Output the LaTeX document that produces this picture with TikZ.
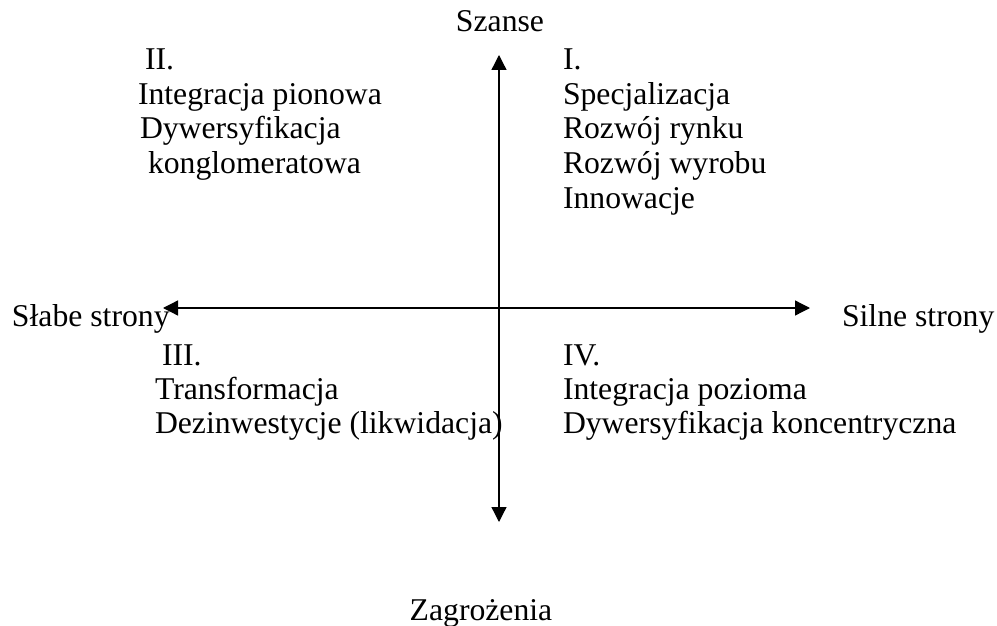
\documentclass[tikz,border=0pt]{standalone}
\usepackage{fontspec}
\setmainfont{Liberation Serif}
\usetikzlibrary{arrows.meta}
\tikzset{
  lbl/.style={anchor=base west, inner sep=0pt, outer sep=0pt, font=\fontsize{31.7}{34}\selectfont},
  axislbl/.style={anchor=base, inner sep=0pt, outer sep=0pt, font=\fontsize{31.7}{34}\selectfont},
  axis/.style={line width=1.3pt, -{Triangle[length=15pt,width=15pt]}},
}
\begin{document}
\begin{tikzpicture}[x=1pt,y=-1pt]
\useasboundingbox (0,0) rectangle (997,626);
% axis end points
\coordinate (c) at (499,308);
\coordinate (top) at (499,55);
\coordinate (bot) at (499,522);
\coordinate (left) at (163,308);
\coordinate (right) at (810,308);
\draw[axis] (c) -- (top);
\draw[axis] (c) -- (bot);
\draw[axis] (c) -- (left);
\draw[axis] (c) -- (right);
% axis labels
\node[axislbl] (szanse) at (500,32) {Szanse};
\node[axislbl] (zagr) at (481,620) {Zagrożenia};
\node[lbl] (slabe) at (12,326) {Słabe strony};
\node[lbl] (silne) at (842,326) {Silne strony};
% quadrant I
\node[lbl] (q1) at (563,70) {I.};
\node[lbl] (q1a) at (563,104.5) {Specjalizacja};
\node[lbl] (q1b) at (563,139) {Rozwój rynku};
\node[lbl] (q1c) at (563,173.5) {Rozwój wyrobu};
\node[lbl] (q1d) at (563,208) {Innowacje};
% quadrant II
\node[lbl] (q2) at (145,70) {II.};
\node[lbl] (q2a) at (138,104.5) {Integracja pionowa};
\node[lbl] (q2b) at (140,139) {Dywersyfikacja};
\node[lbl] (q2c) at (148,173.5) {konglomeratowa};
% quadrant III
\node[lbl] (q3) at (162,365) {III.};
\node[lbl] (q3a) at (155,399) {Transformacja};
\node[lbl] (q3b) at (155,433) {Dezinwestycje (likwidacja)};
% quadrant IV
\node[lbl] (q4) at (563,365) {IV.};
\node[lbl] (q4a) at (563,399) {Integracja pozioma};
\node[lbl] (q4b) at (563,433) {Dywersyfikacja koncentryczna};
\end{tikzpicture}
\end{document}
